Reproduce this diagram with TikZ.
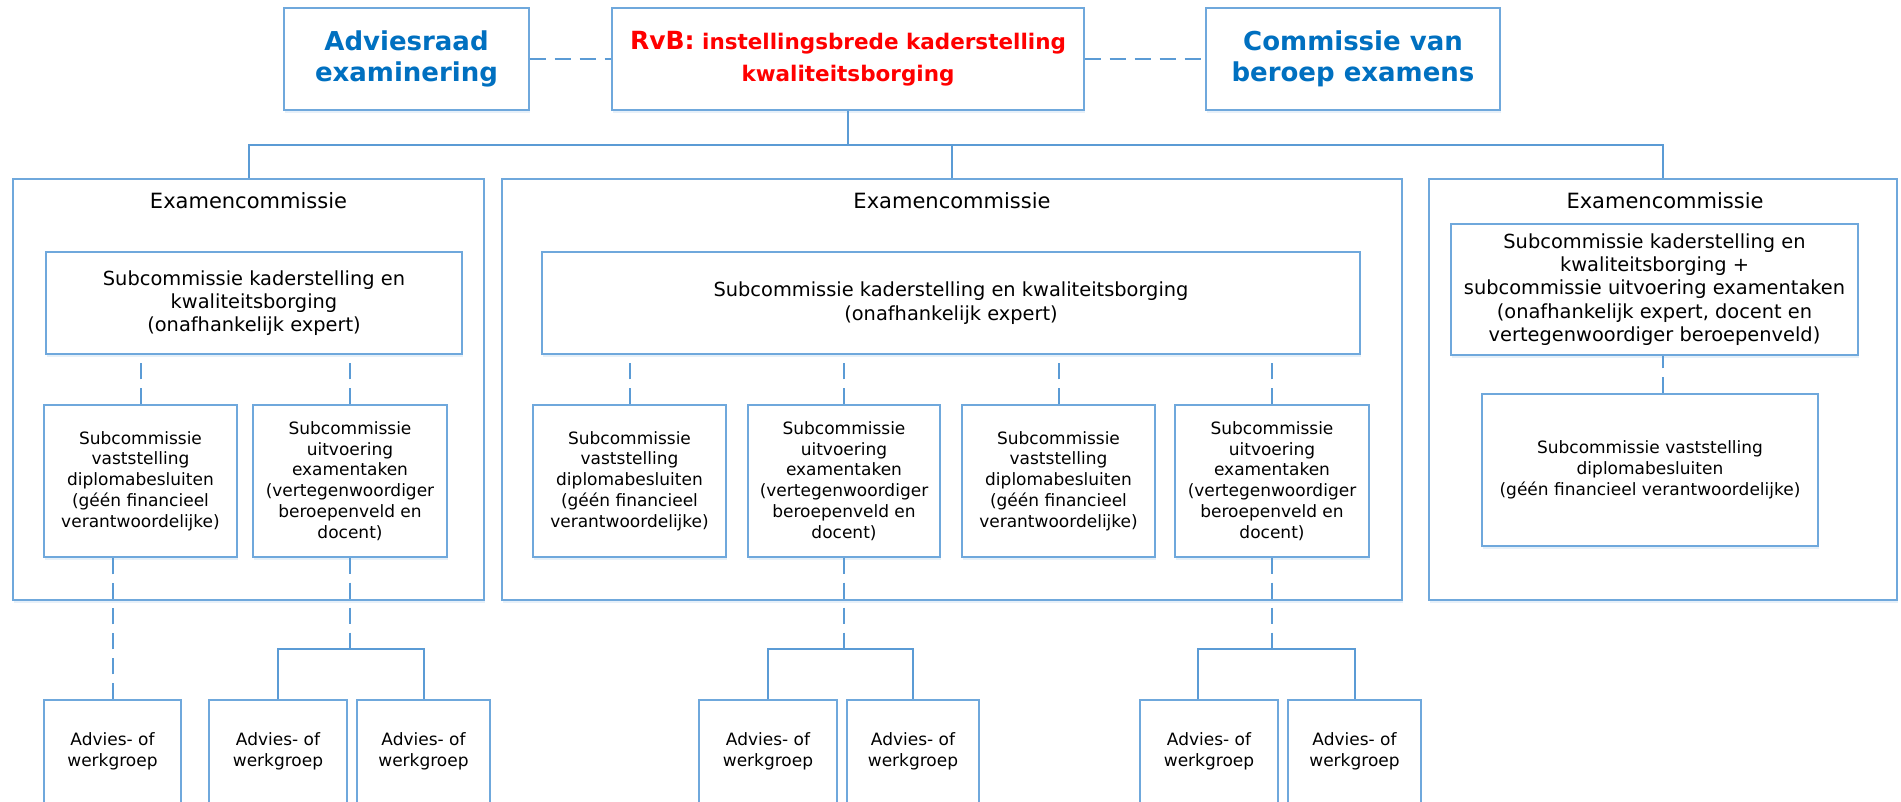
\documentclass[tikz,border=0pt]{standalone}
\usepackage{fontspec}
\setmainfont{DejaVu Sans}
\usetikzlibrary{shadows}
\definecolor{lineblue}{RGB}{91,155,213}
\definecolor{boxblue}{RGB}{111,168,220}
\definecolor{titleblue}{RGB}{0,112,192}
\definecolor{rvbred}{RGB}{255,0,0}

\tikzset{
  box/.style={rectangle, draw=boxblue, line width=1.1pt, fill=white, inner sep=0pt, align=center,
    drop shadow={shadow xshift=1pt, shadow yshift=-2.5pt, opacity=0.15, fill=lineblue}},
  topbox/.style={box, minimum height=102, font=\bfseries\fontsize{26}{31}\selectfont, text=titleblue},
  exbox/.style={box, minimum height=421},
  extitle/.style={font=\fontsize{21}{25}\selectfont, inner sep=0pt},
  kkbox/.style={box, font=\fontsize{19.4}{23.3}\selectfont},
  subbox/.style={box, minimum height=152, font=\fontsize{17}{20.7}\selectfont},
  wgbox/.style={box, minimum height=103, font=\fontsize{17}{20.7}\selectfont},
  conn/.style={draw=lineblue, line width=2pt},
  dashconn/.style={draw=lineblue, line width=2pt, dash pattern=on 16pt off 9pt}
}

\begin{document}
\begin{tikzpicture}[x=1pt, y=-1pt]

    \useasboundingbox (0,0) rectangle (1901,801);
    \coordinate (topbar) at (0,145);
    \coordinate (wgbar) at (0,649);

    % bovenste rij
    \node[topbox, minimum width=245] (adv) at (406.5,59) {Adviesraad\\examinering};
    \node[topbox, minimum width=472, text=rvbred, font=\bfseries\fontsize{21.5}{32}\selectfont] (rvb) at (848,59)
        {{\fontsize{25}{32}\selectfont RvB:} instellingsbrede kaderstelling\\kwaliteitsborging};
    \node[topbox, minimum width=294] (cvb) at (1353,59) {Commissie van\\beroep examens};

    % examencommissies
    \node[exbox, minimum width=471] (ex1) at (248.5,389.5) {};
    \node[exbox, minimum width=900] (ex2) at (952,389.5) {};
    \node[exbox, minimum width=468] (ex3) at (1663,389.5) {};
    \node[extitle, anchor=base] (ex1t) at (248.5,208) {Examencommissie};
    \node[extitle, anchor=base] (ex2t) at (952,208) {Examencommissie};
    \node[extitle, anchor=base] (ex3t) at (1665,208) {Examencommissie};

    % links
    \node[kkbox, minimum width=416, minimum height=102] (kk1) at (254,303)
        {Subcommissie kaderstelling en\\kwaliteitsborging\\(onafhankelijk expert)};
    \node[subbox, minimum width=193] (vs1) at (140.5,481)
        {Subcommissie\\vaststelling\\diplomabesluiten\\(géén financieel\\verantwoordelijke)};
    \node[subbox, minimum width=194] (uv1) at (350,481)
        {Subcommissie\\uitvoering\\examentaken\\(vertegenwoordiger\\beroepenveld en\\docent)};
    \node[wgbox, minimum width=137] (a1) at (112.5,751.5) {Advies- of\\werkgroep};
    \node[wgbox, minimum width=138] (a2) at (278,751.5) {Advies- of\\werkgroep};
    \node[wgbox, minimum width=133] (a3) at (423.5,751.5) {Advies- of\\werkgroep};

    % midden
    \node[kkbox, minimum width=818, minimum height=102] (kk2) at (951,303)
        {Subcommissie kaderstelling en kwaliteitsborging\\(onafhankelijk expert)};
    \node[subbox, minimum width=193] (s21) at (629.5,481)
        {Subcommissie\\vaststelling\\diplomabesluiten\\(géén financieel\\verantwoordelijke)};
    \node[subbox, minimum width=192] (s22) at (844,481)
        {Subcommissie\\uitvoering\\examentaken\\(vertegenwoordiger\\beroepenveld en\\docent)};
    \node[subbox, minimum width=193] (s23) at (1058.5,481)
        {Subcommissie\\vaststelling\\diplomabesluiten\\(géén financieel\\verantwoordelijke)};
    \node[subbox, minimum width=194] (s24) at (1272,481)
        {Subcommissie\\uitvoering\\examentaken\\(vertegenwoordiger\\beroepenveld en\\docent)};
    \node[wgbox, minimum width=138] (a4) at (768,751.5) {Advies- of\\werkgroep};
    \node[wgbox, minimum width=132] (a5) at (913,751.5) {Advies- of\\werkgroep};
    \node[wgbox, minimum width=138] (a6) at (1209,751.5) {Advies- of\\werkgroep};
    \node[wgbox, minimum width=133] (a7) at (1354.5,751.5) {Advies- of\\werkgroep};

    % rechts
    \node[kkbox, minimum width=407, minimum height=131] (kk3) at (1654.5,289.5)
        {Subcommissie kaderstelling en\\kwaliteitsborging +\\subcommissie uitvoering examentaken\\(onafhankelijk expert, docent en\\vertegenwoordiger beroepenveld)};
    \node[subbox, minimum width=336] (vs3) at (1650,470)
        {Subcommissie vaststelling\\diplomabesluiten\\(géén financieel verantwoordelijke)};

    % verbindingen
    \draw[dashconn] (adv) -- (rvb);
    \draw[dashconn] (rvb) -- (cvb);
    \draw[conn] (rvb.south) -- (rvb.south |- topbar);
    \draw[conn] (ex1.north) -- (ex1.north |- topbar) -- (ex3.north |- topbar) -- (ex3.north);
    \draw[conn] (ex2.north) -- (ex2.north |- topbar);

    \draw[dashconn] (vs1.north) -- (vs1.north |- kk1.south);
    \draw[dashconn] (uv1.north) -- (uv1.north |- kk1.south);
    \draw[dashconn] (a1.north) -- (a1.north |- vs1.south);
    \draw[dashconn] (uv1.south) -- (uv1.south |- wgbar);
    \draw[conn] (a2.north) |- (a3.north |- wgbar) -- (a3.north);

    \draw[dashconn] (s21.north) -- (s21.north |- kk2.south);
    \draw[dashconn] (s22.north) -- (s22.north |- kk2.south);
    \draw[dashconn] (s23.north) -- (s23.north |- kk2.south);
    \draw[dashconn] (s24.north) -- (s24.north |- kk2.south);
    \draw[dashconn] (s22.south) -- (s22.south |- wgbar);
    \draw[dashconn] (s24.south) -- (s24.south |- wgbar);
    \draw[conn] (a4.north) |- (a5.north |- wgbar) -- (a5.north);
    \draw[conn] ([xshift=-11pt]a6.north) |- (a7.north |- wgbar) -- (a7.north);

    \draw[dashconn] (vs3.north -| ex3.north) -- (kk3.south -| ex3.north);

\end{tikzpicture}
\end{document}
